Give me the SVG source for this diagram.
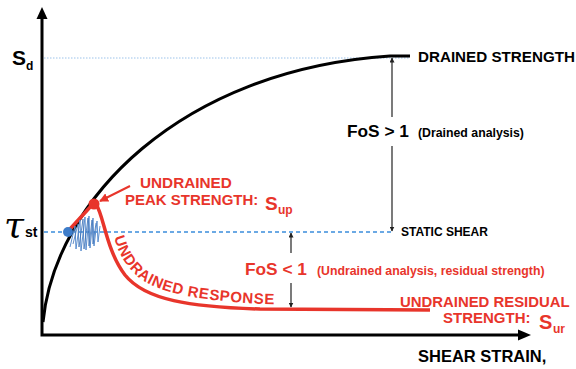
<svg xmlns="http://www.w3.org/2000/svg" width="576" height="369" viewBox="0 0 576 369">
<defs>
<style>
.b{font-family:"Liberation Sans",Arial,sans-serif;font-weight:bold;}
.k{fill:#000;}
.r{fill:#e8352b;}
.ax{stroke:#000;stroke-width:3;fill:none;}
.dim{stroke:#333;stroke-width:1.3;fill:none;}
</style>
<marker id="ah" viewBox="0 0 10 10" refX="9" refY="5" markerWidth="5" markerHeight="5" orient="auto-start-reverse" markerUnits="userSpaceOnUse">
<path d="M0,0 L10,5 L0,10 z" fill="#222"/>
</marker>
<marker id="rah" viewBox="0 0 10 10" refX="9" refY="5" markerWidth="9" markerHeight="9" orient="auto" markerUnits="userSpaceOnUse">
<path d="M0,0 L10,5 L0,10 z" fill="#e8352b"/>
</marker>
</defs>
<rect width="576" height="369" fill="#fff"/>

<g id="axes">
<path class="ax" d="M42,17 V335 H520"/>
<path d="M36.5,19 L42,7 L47.5,19 z" fill="#000"/>
<path d="M518,329.5 L531,335 L518,340.5 z" fill="#000"/>
<text class="b k" x="12" y="65" font-size="21">S</text>
<text class="b k" x="26" y="70" font-size="12">d</text>
<text x="4" y="237" font-family="DejaVu Serif,serif" font-style="italic" font-size="36" fill="#000">τ</text>
<text class="b k" x="25" y="237" font-size="14">st</text>
<text class="b k" x="418" y="362" font-size="16.5">SHEAR STRAIN,</text>
</g>

<g id="reference-lines">
<line x1="44" y1="58" x2="410" y2="58" stroke="#9cc3ea" stroke-width="1" stroke-dasharray="1.5,1.5"/>
<line x1="44" y1="232" x2="392" y2="232" stroke="#3b8ddb" stroke-width="1.5" stroke-dasharray="4,3"/>
</g>

<g id="drained-strength">
<path d="M43,322 C55,200 180,70 390,56 L410,56" fill="none" stroke="#000" stroke-width="3"/>
<text class="b k" x="418" y="62" font-size="15.2">DRAINED STRENGTH</text>
</g>

<g id="static-shear">
<text class="b k" x="401" y="236" font-size="12">STATIC SHEAR</text>
</g>

<g id="undrained-response">
<path d="M70,229 L92,205" stroke="#e8352b" stroke-width="3.5" fill="none" stroke-linecap="round"/>
<path id="rc" d="M96,204 C104,216 106,250 125,275 C145,300 190,307 260,309 L430,310" fill="none" stroke="#e8352b" stroke-width="3.5"/>
<path d="M70,247 L75,226 L76,249 L80,220 L81,251 L85,217 L86,250 L89,216 L90,248 L93,218 L94,246 L97,221 L98,242 L100,226" fill="none" stroke="#5b8fd0" stroke-width="1"/>
<path d="M73,244 L78,224 L79,247 L83,219 L84,249 L88,218 L89,246 L92,220 L93,244 L96,223" fill="none" stroke="#3e72b8" stroke-width="0.8"/>
<circle cx="68" cy="232" r="5" fill="#3d7cc9"/>
<circle cx="94" cy="204" r="5.5" fill="#e8352b"/>
<path id="tp" d="M108,212 C114,240 118,256 133,272 C152,292 192,300 262,304 L300,305" fill="none"/>
<text class="b r" font-size="15" letter-spacing="0.6"><textPath href="#tp" startOffset="26">UNDRAINED</textPath></text>
<text class="b r" font-size="15" letter-spacing="0.6"><textPath href="#tp" startOffset="126">RESPONSE</textPath></text>
</g>

<g id="peak-label">
<text class="b r" x="140" y="188" font-size="15.3">UNDRAINED</text>
<text class="b r" x="125" y="205" font-size="15">PEAK STRENGTH:</text>
<text class="b r" x="265" y="210" font-size="19">S</text>
<text class="b r" x="278" y="214" font-size="12">up</text>
</g>

<g id="residual-label">
<text class="b r" x="400" y="307" font-size="14.9">UNDRAINED RESIDUAL</text>
<text class="b r" x="443" y="323" font-size="15">STRENGTH:</text>
<text class="b r" x="539" y="329" font-size="20">S</text>
<text class="b r" x="553" y="333" font-size="12">ur</text>
</g>

<g id="fos-drained">
<text class="b k" x="347" y="137" font-size="17.3">FoS &gt; 1</text>
<text class="b k" x="418" y="137" font-size="12.3">(Drained analysis)</text>
</g>

<g id="fos-undrained">
<text class="b r" x="245" y="275" font-size="17.3">FoS &lt; 1</text>
<text class="b r" x="317" y="275" font-size="12.3">(Undrained analysis, residual strength)</text>
</g>

<g id="connectors">
<line class="dim" x1="392" y1="117" x2="392" y2="58" marker-end="url(#ah)"/>
<line class="dim" x1="392" y1="146" x2="392" y2="231" marker-end="url(#ah)"/>
<line class="dim" x1="291" y1="253" x2="291" y2="233" marker-end="url(#ah)"/>
<line class="dim" x1="291" y1="283" x2="291" y2="307" marker-end="url(#ah)"/>
<line x1="130" y1="186" x2="100" y2="201" stroke="#e8352b" stroke-width="2" marker-end="url(#rah)"/>
</g>
</svg>
